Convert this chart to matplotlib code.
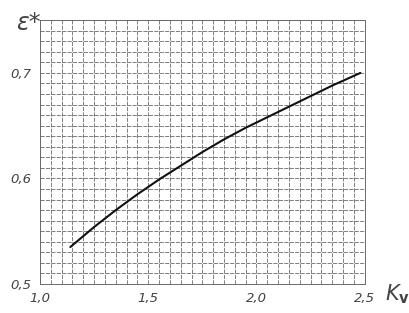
import matplotlib
matplotlib.use("Agg")
import matplotlib.pyplot as plt
import numpy as np

# Data
k_v = [1.14, 1.25, 1.35, 1.45, 1.55, 1.65, 1.75, 1.85, 1.95, 2.05, 2.15, 2.25, 2.35, 2.48]
eps = [0.535, 0.554, 0.570, 0.585, 0.599, 0.612, 0.625, 0.637, 0.648, 0.658, 0.668, 0.678, 0.688, 0.700]

x_ticks = [1.0, 1.5, 2.0, 2.5]
x_tick_labels = ["1,0", "1,5", "2,0", "2,5"]
y_ticks = [0.5, 0.6, 0.7]
y_tick_labels = ["0,5", "0,6", "0,7"]

fig = plt.figure(figsize=(4.10, 3.13), dpi=100)
ax = fig.add_axes([0.0976, 0.0927, 0.792, 0.843])

ax.set_xlim(1.0, 2.5)
ax.set_ylim(0.5, 0.75)

ax.set_xticks(np.arange(1.0, 2.5001, 0.05), minor=True)
ax.set_yticks(np.arange(0.5, 0.7501, 0.01), minor=True)
ax.set_xticks(x_ticks)
ax.set_xticklabels(x_tick_labels)
ax.set_yticks(y_ticks)
ax.set_yticklabels(y_tick_labels)

ax.grid(which="both", color="#6a6a6a", linewidth=0.6, linestyle=(0, (5, 1.5)))
ax.tick_params(which="both", length=0, pad=6, labelsize=9.5, colors="#444444")
for lab in ax.get_xticklabels() + ax.get_yticklabels():
    lab.set_fontstyle("italic")

for s in ax.spines.values():
    s.set_color("#6a6a6a")
    s.set_linewidth(0.7)

ax.plot(k_v, eps, color="#111111", linewidth=1.5, solid_capstyle="round")

fig.text(0.038, 0.905, "ε*", fontsize=17, color="#444444", style="italic")
fig.text(0.94, 0.04, r"$K_{\mathbf{v}}$", fontsize=15, color="#444444")

fig.savefig("out.png", dpi=100)
